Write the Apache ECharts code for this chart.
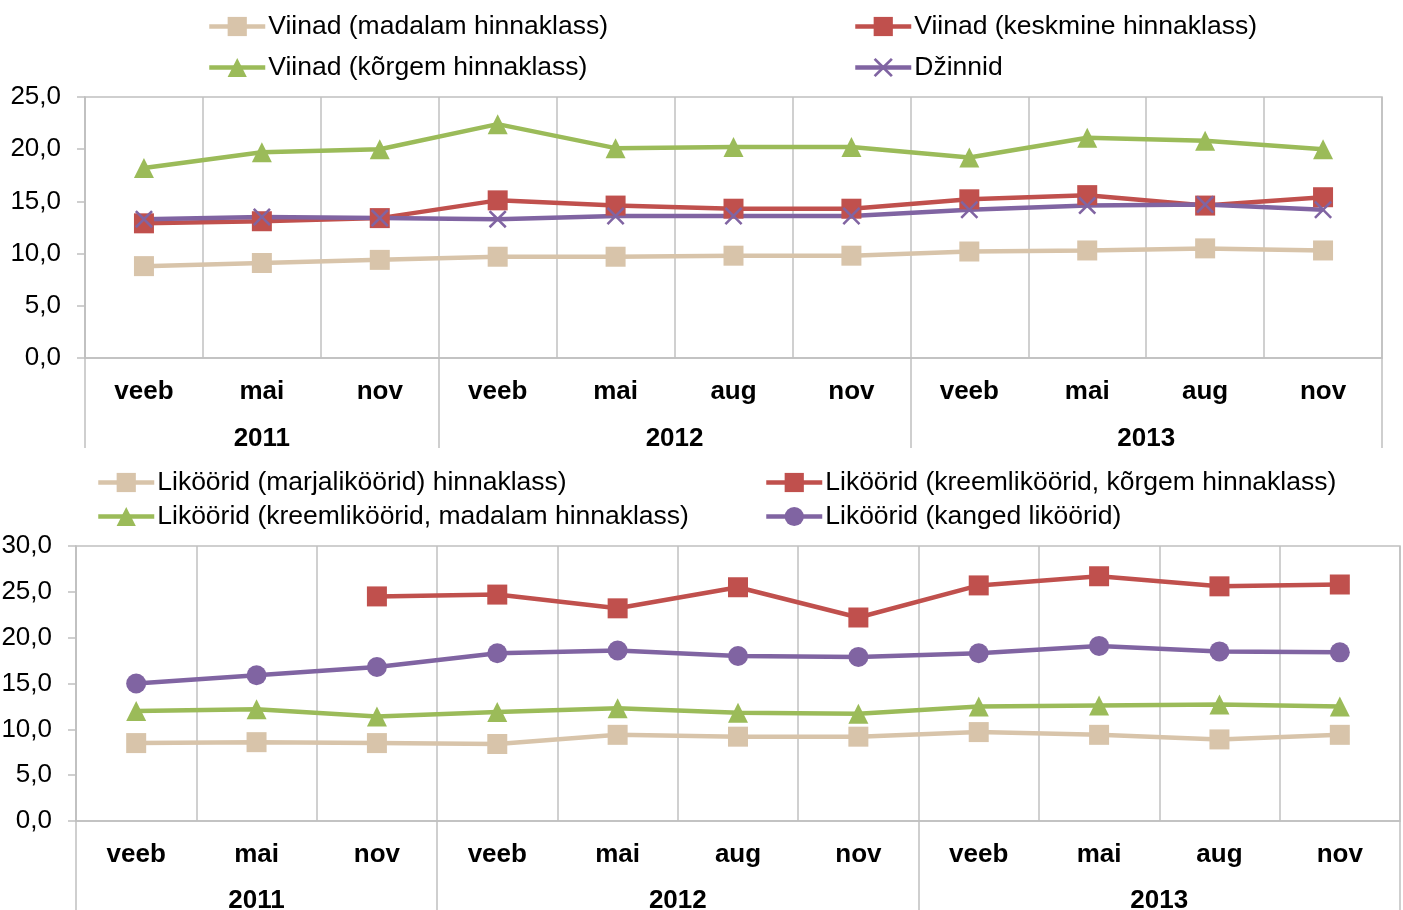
<html>
<head>
<meta charset="UTF-8">
<title>Viinad ja liköörid</title>
<style>
  body { margin: 0; background: #fff; }
  #chart { width: 1403px; height: 910px; }
</style>
</head>
<body>
<div id="chart"></div>
<script src="https://cdn.jsdelivr.net/npm/echarts@6/dist/echarts.min.js"></script>
<script>
// kuud ja aastad
const months = ['veeb', 'mai', 'nov', 'veeb', 'mai', 'aug', 'nov', 'veeb', 'mai', 'aug', 'nov'];
const years = ['2011', '2012', '2013'];
const yearSpans = [3, 4, 4];

// ülemine graafik: viinad ja džinnid
const viinMadal = [8.8, 9.1, 9.4, 9.7, 9.7, 9.8, 9.8, 10.2, 10.3, 10.5, 10.3];
const viinKesk = [12.9, 13.1, 13.4, 15.1, 14.6, 14.3, 14.3, 15.2, 15.6, 14.6, 15.4];
const viinKorg = [18.2, 19.7, 20.0, 22.4, 20.1, 20.2, 20.2, 19.2, 21.1, 20.8, 20.0];
const dzinnid = [13.3, 13.5, 13.4, 13.3, 13.6, 13.6, 13.6, 14.2, 14.6, 14.7, 14.2];

// alumine graafik: liköörid
const marja = [8.5, 8.6, 8.5, 8.4, 9.4, 9.2, 9.2, 9.7, 9.4, 8.9, 9.4];
const kreemKorg = [null, null, 24.5, 24.7, 23.2, 25.5, 22.2, 25.7, 26.7, 25.6, 25.8];
const kreemMadal = [12.0, 12.2, 11.4, 11.9, 12.3, 11.8, 11.7, 12.5, 12.6, 12.7, 12.5];
const kanged = [15.0, 15.9, 16.8, 18.3, 18.6, 18.0, 17.9, 18.3, 19.1, 18.5, 18.4];

const names = {
  vm: 'Viinad (madalam hinnaklass)',
  vk: 'Viinad (keskmine hinnaklass)',
  vg: 'Viinad (kõrgem hinnaklass)',
  dz: 'Džinnid',
  lm: 'Liköörid (marjaliköörid) hinnaklass)',
  lk: 'Liköörid (kreemliköörid, kõrgem hinnaklass)',
  ln: 'Liköörid (kreemliköörid, madalam hinnaklass)',
  lt: 'Liköörid (kanged liköörid)'
};

const BEIGE = '#D8C4AA', RED = '#C0504D', GREEN = '#9BBB59', PURPLE = '#8064A2';
const GRID_C = '#C0C0C0';
const FONT = 'Liberation Sans, Arial, sans-serif';
const CROSS = 'path://M0,1L1,0L5,4L9,0L10,1L6,5L10,9L9,10L5,6L1,10L0,9L4,5Z';

// aastate piirid ja keskkohad
const yearBounds = [0];
yearSpans.forEach(s => yearBounds.push(yearBounds[yearBounds.length - 1] + s));
const yearCenters = years.map((y, i) => (yearBounds[i] + yearBounds[i + 1]) / 2);

const fmtNum = v => v.toFixed(1).replace('.', ',');

function monthAxis(gridIndex) {
  return {
    type: 'category', gridIndex, data: months, position: 'bottom',
    axisLine: { lineStyle: { color: GRID_C, width: 1.5 } },
    axisTick: { show: false },
    axisLabel: { interval: 0, margin: 21, color: '#000', fontSize: 26, fontWeight: 'bold', fontFamily: FONT },
    splitLine: { show: true, interval: 0, lineStyle: { color: GRID_C, width: 1.5 } }
  };
}

function yearAxis(gridIndex, margin) {
  return {
    type: 'value', gridIndex, position: 'bottom', min: 0, max: months.length,
    axisLine: { show: false },
    axisTick: { show: true, inside: false, length: 90, customValues: yearBounds, lineStyle: { color: GRID_C, width: 1.5 } },
    axisLabel: {
      margin, color: '#000', fontSize: 26, fontWeight: 'bold', fontFamily: FONT,
      customValues: yearCenters,
      formatter: v => { const i = yearCenters.indexOf(v); return i >= 0 ? years[i] : ''; }
    },
    splitLine: { show: false }
  };
}

function valAxis(gridIndex, max) {
  return {
    type: 'value', gridIndex, min: 0, max, interval: 5,
    axisLine: { show: true, lineStyle: { color: GRID_C, width: 1.5 } },
    axisTick: { show: true, length: 8, lineStyle: { color: GRID_C, width: 1.5 } },
    axisLabel: { margin: 24, color: '#000', fontSize: 26, fontFamily: FONT, formatter: fmtNum },
    splitLine: { show: false }
  };
}

function line(name, data, color, symbol, xIdx, yIdx, size) {
  return {
    name, type: 'line', data, xAxisIndex: xIdx, yAxisIndex: yIdx,
    symbol, symbolSize: size || 20, showSymbol: true,
    lineStyle: { color, width: 4.5 },
    itemStyle: { color },
    connectNulls: false
  };
}

function legend(data, left, top, gap) {
  return {
    data, left, top, orient: 'vertical', itemGap: gap,
    itemWidth: 56, itemHeight: 24,
    lineStyle: { width: 4.5 },
    textStyle: { color: '#000', fontSize: 26.5, fontFamily: FONT, lineHeight: 26, padding: [0, 0, 0, -2] }
  };
}

const chart = echarts.init(document.getElementById('chart'));
chart.setOption({
  animation: false,
  grid: [
    { left: 85, right: 21, top: 97, height: 261, show: true, borderColor: GRID_C, borderWidth: 1.5, outerBoundsMode: 'none' },
    { left: 76, right: 3, top: 546, height: 275, show: true, borderColor: GRID_C, borderWidth: 1.5, outerBoundsMode: 'none' }
  ],
  legend: [
    legend([names.vm, names.vg], 202, 8, 14),
    legend([names.vk, names.dz], 848, 8, 14),
    legend([names.lm, names.ln], 91, 464, 7),
    legend([names.lk, names.lt], 759, 464, 7)
  ],
  xAxis: [monthAxis(0), yearAxis(0, 68), monthAxis(1), yearAxis(1, 67)],
  yAxis: [valAxis(0, 25), valAxis(1, 30)],
  series: [
    line(names.vm, viinMadal, BEIGE, 'rect', 0, 0),
    line(names.vk, viinKesk, RED, 'rect', 0, 0),
    line(names.vg, viinKorg, GREEN, 'triangle', 0, 0),
    line(names.dz, dzinnid, PURPLE, CROSS, 0, 0, 18),
    line(names.lm, marja, BEIGE, 'rect', 2, 1),
    line(names.lk, kreemKorg, RED, 'rect', 2, 1),
    line(names.ln, kreemMadal, GREEN, 'triangle', 2, 1),
    line(names.lt, kanged, PURPLE, 'circle', 2, 1)
  ]
});
</script>
</body>
</html>
